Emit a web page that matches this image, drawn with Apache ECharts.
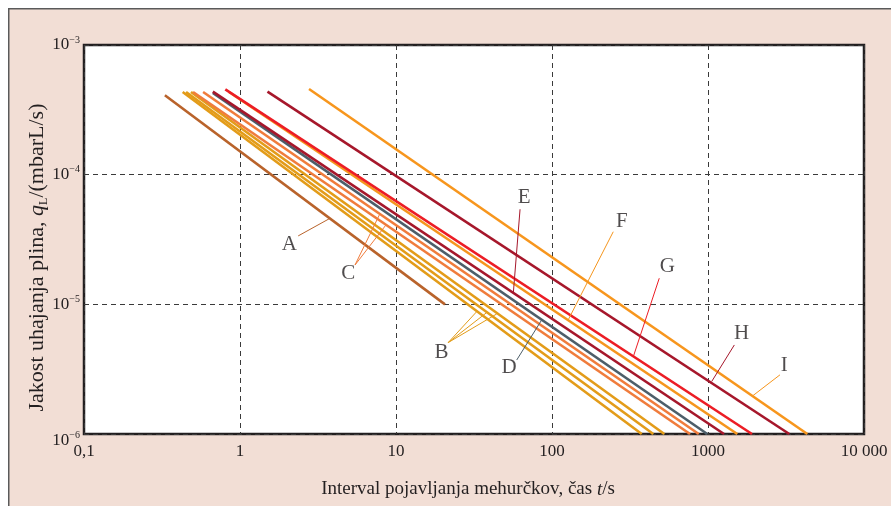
<!DOCTYPE html>
<html>
<head>
<meta charset="utf-8">
<script src="https://cdn.jsdelivr.net/npm/echarts@6/dist/echarts.min.js"></script>
<style>
html,body{margin:0;padding:0;background:#fff;}
#c{width:891px;height:506px;}
</style>
</head>
<body>
<div id="c"></div>
<script>
// ---- data ----
const lineNames = ['A','B1','B2','B3','C1','C2','D','E','F','G','H','I'];
const startT = [0.33, 0.429, 0.451, 0.485, 0.50, 0.58, 0.67, 0.67, 0.85, 0.805, 1.5, 2.77];
const startQ = [4.1e-4, 4.34e-4, 4.34e-4, 4.34e-4, 4.34e-4, 4.34e-4, 4.27e-4, 4.37e-4, 4.34e-4, 4.55e-4, 4.37e-4, 4.58e-4];
const endT = [20.6, 376, 446, 525, 767, 872, 990, 1267, 1541, 1914, 3321, 4332];
const endQ = [1.0e-5, 1e-6, 1e-6, 1e-6, 1e-6, 1e-6, 1e-6, 1e-6, 1e-6, 1e-6, 1e-6, 1e-6];

const xTickValues = [0.1, 1, 10, 100, 1000, 10000];
const xTickLabels = ['0,1', '1', '10', '100', '1000', '10 000'];
const yTickExps = [-6, -5, -4, -3];

// annotation letters
const labelNames = ['A','B','C','D','E','F','G','H','I'];
const labelT = [2.07, 19.6, 4.95, 53.0, 66.2, 280, 548, 1644, 3084];
const labelQ = [2.87e-5, 4.24e-6, 1.74e-5, 3.23e-6, 6.61e-5, 4.34e-5, 1.95e-5, 5.98e-6, 3.35e-6];
// leader lines (from near letter -> to curve)
const leaderOwner = ['A','B','B','B','C','C','D','E','F','G','H','I'];
const leaderFromT = [2.36, 21.6, 21.6, 21.6, 5.46, 5.46, 59.4, 62.4, 247, 487, 1475, 2894];
const leaderFromQ = [3.37e-5, 5.07e-6, 5.07e-6, 5.07e-6, 2.01e-5, 2.01e-5, 3.72e-6, 5.41e-5, 3.63e-5, 1.59e-5, 4.86e-6, 2.86e-6];
const leaderToT = [3.78, 32.9, 38.1, 44.2, 7.82, 8.63, 85.9, 56.5, 127, 332, 1056, 1934];
const leaderToQ = [4.61e-5, 8.78e-6, 8.63e-6, 8.43e-6, 4.89e-5, 4.10e-5, 7.58e-6, 1.22e-5, 7.58e-6, 3.95e-6, 2.54e-6, 1.97e-6];

// ---- styles ----
const colorOf = {
  A: '#b9632b', B: '#e39c19', B1: '#e39c19', B2: '#e39c19', B3: '#e39c19',
  C: '#f07c3c', C1: '#f07c3c', C2: '#f07c3c', D: '#4d5e69', E: '#a6172b',
  F: '#f5961e', G: '#ec1d25', H: '#a6172b', I: '#f7961d'
};
const FONT = '"Liberation Serif", "DejaVu Serif", serif';
const TXT = '#231f20';

const series = [];
lineNames.forEach((n, i) => {
  series.push({
    type: 'line', name: n, symbol: 'none', silent: true, z: 3,
    lineStyle: { color: colorOf[n], width: 2.6 },
    data: [[startT[i], startQ[i]], [endT[i], endQ[i]]]
  });
});
leaderOwner.forEach((n, i) => {
  series.push({
    type: 'line', symbol: 'none', silent: true, z: 4,
    lineStyle: { color: colorOf[n], width: 1 },
    data: [[leaderFromT[i], leaderFromQ[i]], [leaderToT[i], leaderToQ[i]]]
  });
});
series.push({
  type: 'scatter', symbolSize: 0, silent: true, z: 5,
  data: labelNames.map((n, i) => ({ name: n, value: [labelT[i], labelQ[i]] })),
  label: {
    show: true, position: 'inside', formatter: p => p.name,
    fontFamily: FONT, fontSize: 21, color: TXT
  }
});

const chart = echarts.init(document.getElementById('c'), null, { renderer: 'canvas' });
chart.setOption({
  backgroundColor: '#ffffff',
  animation: false,
  graphic: [{
    type: 'rect', z: -10, left: 8, top: 8,
    shape: { x: 0, y: 0, width: 900, height: 520 },
    style: { fill: '#f2ded5', stroke: '#5a5a5a', lineWidth: 1.5 }
  }],
  grid: {
    left: 84, right: 27, top: 45, bottom: 72,
    show: true, backgroundColor: '#ffffff', borderColor: '#231f20', borderWidth: 2.5
  },
  xAxis: {
    type: 'log', logBase: 10, min: 0.1, max: 10000,
    name: '{n|Interval pojavljanja mehurčkov, čas }{i|t}{n|/s}',
    nameLocation: 'middle', nameGap: 46,
    nameTextStyle: {
      padding: [0, 12, 0, 0],
      rich: {
        n: { fontFamily: FONT, fontSize: 19, color: TXT },
        i: { fontFamily: FONT, fontSize: 19, color: TXT, fontStyle: 'italic' }
      }
    },
    axisLine: { show: false }, axisTick: { show: false },
    axisLabel: {
      margin: 9, fontFamily: FONT, fontSize: 17, color: TXT,
      formatter: v => {
        const e = Math.round(Math.log10(v));
        const k = xTickValues.findIndex(t => Math.round(Math.log10(t)) === e);
        return k >= 0 ? xTickLabels[k] : '';
      }
    },
    splitLine: { show: true, lineStyle: { color: '#3a3a3a', type: [5, 4], width: 1 } },
    minorTick: { show: false }
  },
  yAxis: {
    type: 'log', logBase: 10, min: 1e-6, max: 1e-3,
    name: '{n|Jakost uhajanja plina, }{i|q}{sub|L}{n|/(mbarL/s)}',
    nameLocation: 'middle', nameGap: 34, nameRotate: 90, nameMoveOverlap: false,
    nameTextStyle: {
      padding: [0, 36, 0, 0],
      rich: {
        n: { fontFamily: FONT, fontSize: 22, color: TXT, lineHeight: 26 },
        i: { fontFamily: FONT, fontSize: 22, color: TXT, fontStyle: 'italic', lineHeight: 26 },
        sub: { fontFamily: FONT, fontSize: 12, color: TXT, lineHeight: 14, verticalAlign: 'bottom' }
      }
    },
    axisLine: { show: false }, axisTick: { show: false },
    axisLabel: {
      margin: 4,
      formatter: v => {
        const e = Math.round(Math.log10(v));
        if (yTickExps.indexOf(e) < 0) return '';
        const m = '\u2212' + (-e);
        if (e === -6) return '{bl|10}{sl|' + m + '}';
        return '{b|10}{s|' + m + '}';
      },
      rich: {
        b: { fontFamily: FONT, fontSize: 17, color: TXT, lineHeight: 20 },
        s: { fontFamily: FONT, fontSize: 10, color: TXT, lineHeight: 10, verticalAlign: 'top' },
        bl: { fontFamily: FONT, fontSize: 17, color: TXT, lineHeight: 20, padding: [14, 0, 0, 0] },
        sl: { fontFamily: FONT, fontSize: 10, color: TXT, lineHeight: 10, verticalAlign: 'top', padding: [6, 0, 0, 0] }
      }
    },
    splitLine: { show: true, lineStyle: { color: '#3a3a3a', type: [5, 4], width: 1 } }
  },
  series: series
});
</script>
</body>
</html>
